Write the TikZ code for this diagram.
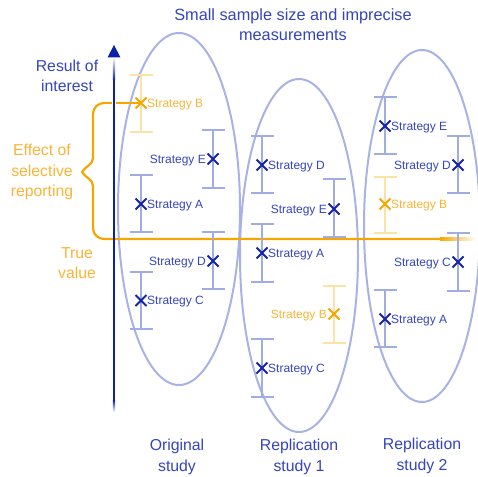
\documentclass[tikz,border=0pt]{standalone}
\usepackage{fontspec}
\setmainfont{Liberation Sans}
\usetikzlibrary{shapes.misc}

\definecolor{axisblue}{RGB}{12,32,170}
\definecolor{textblue}{RGB}{52,68,190}
\definecolor{crossblue}{RGB}{22,36,165}
\definecolor{ellblue}{RGB}{168,178,228}
\definecolor{barblue}{RGB}{160,172,226}
\definecolor{selorange}{RGB}{246,166,0}
\definecolor{lightorange}{RGB}{253,226,165}
\definecolor{orangetext}{RGB}{248,180,55}

\tikzset{
  studyell/.style={draw=ellblue, line width=2pt},
  barline/.style={line width=1.6pt},
  xmark/.style={cross out, draw=crossblue, line width=2pt, minimum size=9pt, inner sep=0pt},
  xmarkor/.style={xmark, draw=selorange},
  lbl/.style={font=\fontsize{12}{13}\selectfont, text=textblue, inner sep=0pt, yshift=-1.2pt},
  lblor/.style={lbl, text=orangetext},
  biglbl/.style={font=\fontsize{15.8}{20.3}\selectfont, text=textblue, align=center, inner sep=0pt},
  orlbl/.style={biglbl, text=orangetext},
}

% error bar: x, top, bottom, colour
\newcommand\sbar[4]{%
  \draw[barline,#4] (#1,#2) -- (#1,#3);
  \draw[barline,#4] (#1-11.5,#2) -- (#1+11.5,#2);
  \draw[barline,#4] (#1-11.5,#3) -- (#1+11.5,#3);
}

\begin{document}
\begin{tikzpicture}[x=1pt,y=-1pt]
\useasboundingbox (0,0) rectangle (478,476);

% the three studies
\draw[studyell] (179,209) ellipse [x radius=61, y radius=176];
\draw[studyell] (299,255.5) ellipse [x radius=59, y radius=176.5];
\draw[studyell] (422,226) ellipse [x radius=58, y radius=176];

% true value line, fading out to the right
\draw[selorange, line width=2.2pt] (93,228) to[out=-90,in=180] (104,239) -- (440,239);
\shade[left color=selorange, right color=white] (440,237.9) rectangle (476,240.1);

% brace of selective reporting
\coordinate (brtop) at (104,103);
\draw[selorange, line width=2.2pt, line join=round]
  (brtop) to[out=180,in=90] (93,114) -- (93,158)
  to[out=-90,in=60] (82,172) to[out=-60,in=90] (93,186) -- (93,228);

% error bars
\sbar{141}{75}{132}{lightorange}
\sbar{213}{130}{188}{barblue}
\sbar{141}{175}{232}{barblue}
\sbar{213}{232}{289}{barblue}
\sbar{141}{272}{329}{barblue}

\sbar{262}{136}{193}{barblue}
\sbar{334}{179}{237}{barblue}
\sbar{262}{224}{282}{barblue}
\sbar{334}{286}{343}{lightorange}
\sbar{262}{339}{397}{barblue}

\sbar{385}{97}{154}{barblue}
\sbar{458}{136}{193}{barblue}
\sbar{385}{177}{233}{lightorange}
\sbar{458}{233}{291}{barblue}
\sbar{385}{290}{347}{barblue}

% estimates of the original study
\node[xmarkor] (o-b) at (141,103) {};
\node[lblor, anchor=west] (o-bl) at (147,103) {Strategy B};
\node[xmark] (o-e) at (213,159) {};
\node[lbl, anchor=east] (o-el) at (206,159) {Strategy E};
\node[xmark] (o-a) at (141,204) {};
\node[lbl, anchor=west] (o-al) at (147,204) {Strategy A};
\node[xmark] (o-d) at (213,261) {};
\node[lbl, anchor=east] (o-dl) at (206,261) {Strategy D};
\node[xmark] (o-c) at (141,300.5) {};
\node[lbl, anchor=west] (o-cl) at (147,300.5) {Strategy C};

% estimates of replication study 1
\node[xmark] (r1-d) at (262,165) {};
\node[lbl, anchor=west] (r1-dl) at (268,165) {Strategy D};
\node[xmark] (r1-e) at (334,209) {};
\node[lbl, anchor=east] (r1-el) at (327,209) {Strategy E};
\node[xmark] (r1-a) at (262,253) {};
\node[lbl, anchor=west] (r1-al) at (268,253) {Strategy A};
\node[xmarkor] (r1-b) at (334,314) {};
\node[lblor, anchor=east] (r1-bl) at (327,314) {Strategy B};
\node[xmark] (r1-c) at (262,368) {};
\node[lbl, anchor=west] (r1-cl) at (268,368) {Strategy C};

% estimates of replication study 2
\node[xmark] (r2-e) at (385,126) {};
\node[lbl, anchor=west] (r2-el) at (391,126) {Strategy E};
\node[xmark] (r2-d) at (458,165) {};
\node[lbl, anchor=east] (r2-dl) at (451,165) {Strategy D};
\node[xmarkor] (r2-b) at (385,204) {};
\node[lblor, anchor=west] (r2-bl) at (391,204) {Strategy B};
\node[xmark] (r2-c) at (458,262) {};
\node[lbl, anchor=east] (r2-cl) at (451,262) {Strategy C};
\node[xmark] (r2-a) at (385,319) {};
\node[lbl, anchor=west] (r2-al) at (391,319) {Strategy A};

% reported result pointing to the selected estimate
\draw[selorange, line width=2.2pt] (brtop) -- (o-b.center);

% axis of the result of interest
\draw[white, line width=4pt] (114,95) -- (114,110);
\shade[top color=white, bottom color=axisblue] (112.8,57) rectangle (115.2,80);
\fill[axisblue] (112.8,80) rectangle (115.2,400);
\shade[top color=axisblue, bottom color=white] (112.8,400) rectangle (115.2,412);
\fill[axisblue] (114,45) -- (120.5,57.5) -- (107.5,57.5) -- cycle;

% titles and labels
\node[biglbl, font=\fontsize{16.3}{20.3}\selectfont] (title) at (293,25) {Small sample size and imprecise\\measurements};
\node[biglbl] (result) at (67,76) {Result of\\interest};
\node[orlbl] (effect) at (42,172) {Effect of\\selective\\reporting};
\node[orlbl] (truev) at (77,263) {True\\value};
\node[biglbl] (orig) at (177,457) {Original\\study};
\node[biglbl] (rep1) at (299,457) {Replication\\study 1};
\node[biglbl] (rep2) at (422,456) {Replication\\study 2};
\end{tikzpicture}
\end{document}
